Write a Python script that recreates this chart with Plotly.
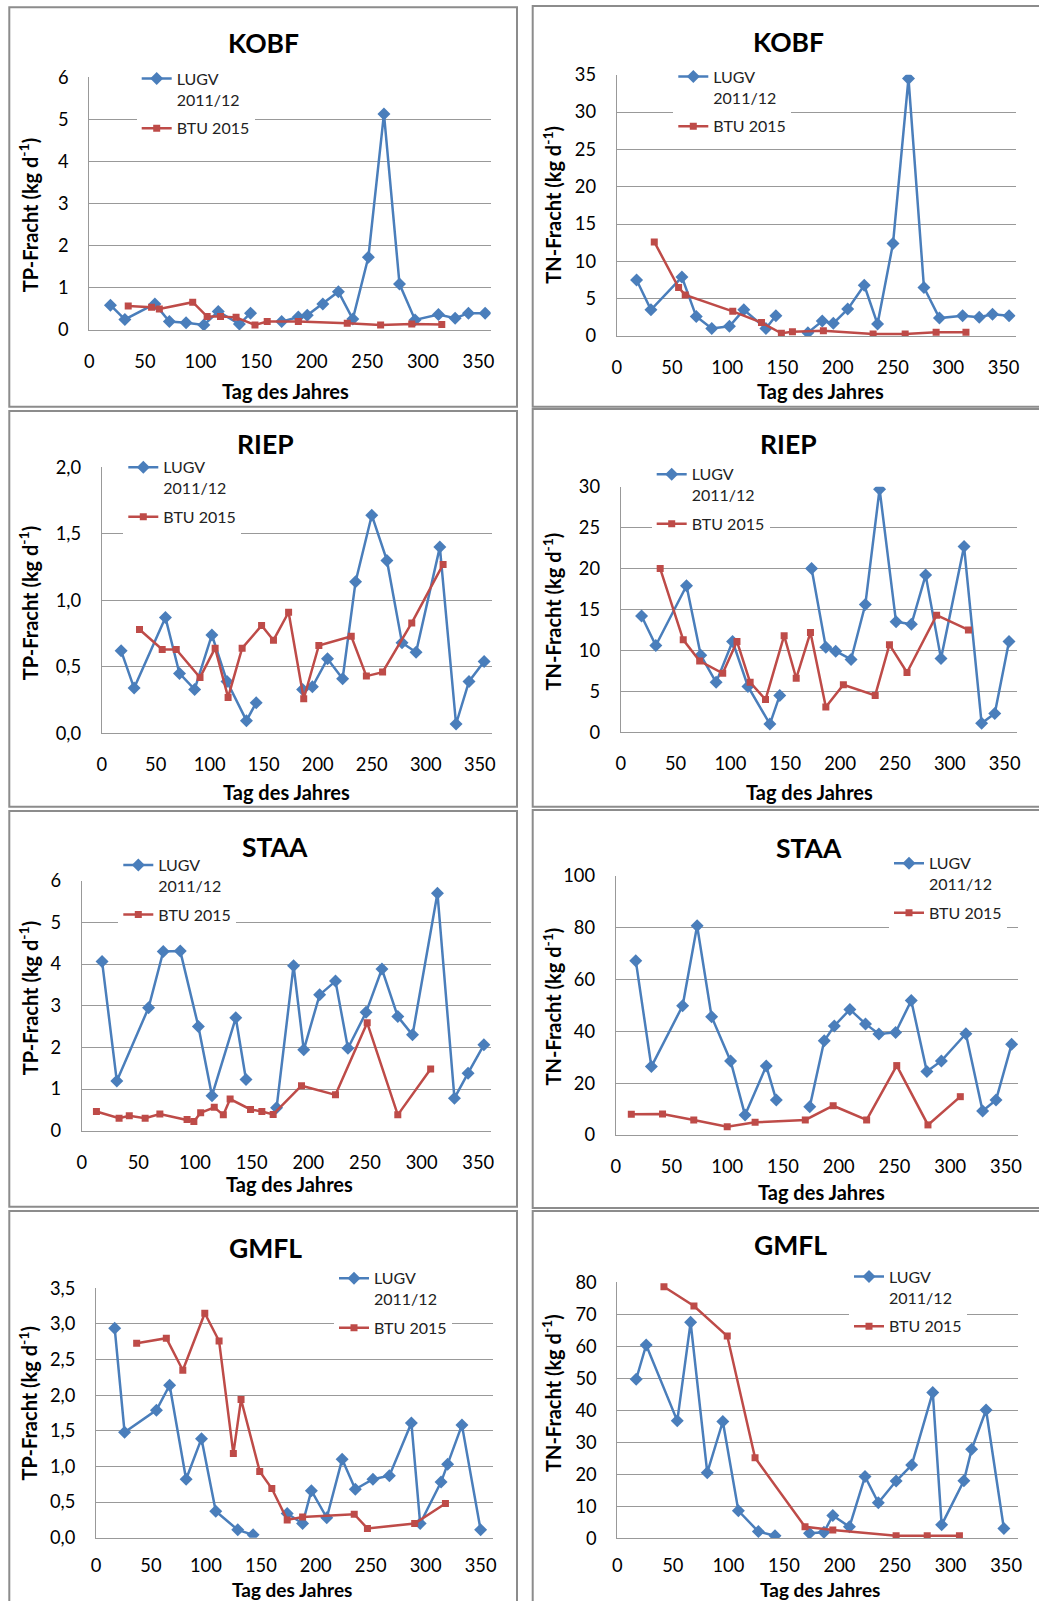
import plotly.graph_objects as go

# ---------------- DATA ----------------
# KOBF TP
kobf_tp_lugv_day = [19, 32, 59, 72, 87, 103, 116, 135, 145, None, 173, 188, 196, 210, 224, 237, 251, 265, 279, 293, 314, 329, 341, 356]
kobf_tp_lugv_val = [0.59, 0.25, 0.62, 0.20, 0.17, 0.12, 0.44, 0.14, 0.40, None, 0.20, 0.31, 0.35, 0.62, 0.91, 0.26, 1.73, 5.13, 1.09, 0.24, 0.37, 0.28, 0.40, 0.40]
kobf_tp_btu_day = [35, 56, 63, 93, 106, 118, 132, 149, 160, 188, 232, 262, 290, 317]
kobf_tp_btu_val = [0.57, 0.54, 0.50, 0.66, 0.32, 0.32, 0.30, 0.12, 0.20, 0.20, 0.16, 0.12, 0.14, 0.13]
# KOBF TN
kobf_tn_lugv_day = [18, 31, 59, 72, 86, 102, 115, 135, 144, None, 173, 186, 196, 209, 224, 236, 250, 264, 278, 292, 313, 328, 340, 355]
kobf_tn_lugv_val = [7.5, 3.5, 7.9, 2.6, 1.0, 1.3, 3.5, 1.0, 2.7, None, 0.45, 2.0, 1.7, 3.6, 6.8, 1.6, 12.4, 34.5, 6.5, 2.4, 2.7, 2.5, 2.9, 2.7]
kobf_tn_btu_day = [34, 56, 62, 105, 131, 149, 159, 187, 232, 261, 289, 316]
kobf_tn_btu_val = [12.6, 6.5, 5.5, 3.3, 1.8, 0.36, 0.58, 0.71, 0.27, 0.27, 0.49, 0.49]
# RIEP TP
riep_tp_lugv_day = [18, 30, 59, 72, 86, 102, 116, 134, 143, None, 186, 195, 209, 223, 235, 250, 264, 278, 291, 313, 328, 340, 354]
riep_tp_lugv_val = [0.62, 0.34, 0.87, 0.45, 0.33, 0.74, 0.39, 0.095, 0.23, None, 0.33, 0.35, 0.56, 0.41, 1.14, 1.64, 1.30, 0.68, 0.61, 1.40, 0.07, 0.39, 0.54]
riep_tp_btu_day = [35, 56, 69, 91, 105, 117, 130, 148, 159, 173, 187, 201, 231, 245, 260, 287, 316]
riep_tp_btu_val = [0.78, 0.63, 0.63, 0.42, 0.64, 0.27, 0.64, 0.81, 0.70, 0.91, 0.26, 0.66, 0.73, 0.43, 0.46, 0.83, 1.27]
# RIEP TN
riep_tn_lugv_day = [19, 32, 60, 73, 87, 102, 116, 136, 145, None, 174, 187, 196, 210, 223, 236, 251, 265, 278, 292, 313, 329, 341, 354]
riep_tn_lugv_val = [14.2, 10.6, 17.9, 9.4, 6.1, 11.1, 5.6, 1.0, 4.5, None, 20.0, 10.4, 9.9, 8.9, 15.6, 29.7, 13.5, 13.2, 19.2, 9.0, 22.7, 1.1, 2.3, 11.1]
riep_tn_btu_day = [36, 57, 72, 93, 106, 118, 132, 149, 160, 173, 187, 203, 232, 245, 261, 288, 317]
riep_tn_btu_val = [20.0, 11.3, 8.7, 7.2, 11.1, 6.1, 4.0, 11.8, 6.6, 12.2, 3.1, 5.8, 4.5, 10.7, 7.3, 14.3, 12.5]
# STAA TP
staa_tp_lugv_day = [18, 31, 59, 72, 87, 103, 115, 136, 145, None, 172, 187, 196, 210, 224, 235, 251, 265, 279, 292, 314, 329, 341, 355]
staa_tp_lugv_val = [4.06, 1.19, 2.95, 4.30, 4.31, 2.50, 0.84, 2.71, 1.23, None, 0.55, 3.96, 1.94, 3.26, 3.59, 1.98, 2.84, 3.88, 2.74, 2.30, 5.70, 0.78, 1.38, 2.06]
staa_tp_btu_day = [13, 33, 42, 56, 69, 93, 99, 105, 117, 125, 131, 149, 159, 169, 194, 224, 252, 279, 308]
staa_tp_btu_val = [0.46, 0.30, 0.36, 0.30, 0.40, 0.27, 0.22, 0.43, 0.56, 0.38, 0.76, 0.51, 0.46, 0.39, 1.08, 0.86, 2.59, 0.38, 1.48]
# STAA TN
staa_tn_lugv_day = [18, 32, 60, 73, 86, 103, 116, 135, 144, None, 174, 187, 196, 210, 224, 236, 251, 265, 279, 292, 314, 329, 341, 355]
staa_tn_lugv_val = [67.3, 26.4, 49.9, 80.8, 45.7, 28.6, 7.7, 26.6, 13.5, None, 10.9, 36.4, 42.1, 48.5, 42.9, 39.0, 39.6, 51.9, 24.5, 28.6, 39.1, 9.3, 13.5, 35.0]
staa_tn_btu_day = [14, 42, 70, 100, 125, 170, 195, 225, 252, 280, 309]
staa_tn_btu_val = [8.0, 8.1, 5.8, 3.2, 4.9, 5.8, 11.3, 5.8, 26.8, 3.9, 14.8]
# GMFL TP
gmfl_tp_lugv_day = [17, 26, 55, 67, 82, 96, 109, 129, 143, None, 174, 188, 196, 210, 224, 236, 252, 267, 287, 295, 314, 320, 333, 350]
gmfl_tp_lugv_val = [2.94, 1.48, 1.79, 2.14, 0.82, 1.39, 0.37, 0.11, 0.04, None, 0.34, 0.20, 0.66, 0.28, 1.10, 0.68, 0.82, 0.87, 1.61, 0.20, 0.78, 1.03, 1.58, 0.11]
gmfl_tp_btu_day = [37, 64, 79, 99, 112, 125, 132, 149, 160, 174, 188, 235, 247, 290, 318]
gmfl_tp_btu_val = [2.73, 2.80, 2.35, 3.15, 2.76, 1.18, 1.94, 0.93, 0.69, 0.25, 0.29, 0.33, 0.13, 0.20, 0.48]
# GMFL TN
gmfl_tn_lugv_day = [17, 26, 54, 66, 81, 95, 109, 127, 142, None, 173, 186, 194, 209, 223, 235, 251, 265, 284, 292, 312, 319, 332, 348]
gmfl_tn_lugv_val = [49.7, 60.4, 36.7, 67.5, 20.5, 36.5, 8.6, 2.1, 0.8, None, 1.6, 1.9, 7.1, 3.6, 19.3, 11.1, 17.9, 22.9, 45.6, 4.2, 18.0, 27.8, 40.1, 3.1]
gmfl_tn_btu_day = [42, 69, 99, 124, 169, 194, 251, 279, 308]
gmfl_tn_btu_val = [78.6, 72.6, 63.2, 25.2, 3.6, 2.6, 0.8, 0.8, 0.8]

station_names = ["KOBF", "KOBF", "RIEP", "RIEP", "STAA", "STAA", "GMFL", "GMFL"]
y_titles = ["TP-Fracht (kg d<sup>-1</sup>)", "TN-Fracht (kg d<sup>-1</sup>)"] * 4
x_title = "Tag des Jahres"
series_names = ["LUGV<br>2011/12", "BTU 2015"]
y_max = [6, 35, 2.0, 30, 6, 100, 3.5, 80]
y_step = [1, 5, 0.5, 5, 1, 20, 0.5, 10]
y_fmt = ["d", "d", ".1f", "d", "d", "d", ".1f", "d"]
x_max = 361

series = [
    (kobf_tp_lugv_day, kobf_tp_lugv_val, kobf_tp_btu_day, kobf_tp_btu_val),
    (kobf_tn_lugv_day, kobf_tn_lugv_val, kobf_tn_btu_day, kobf_tn_btu_val),
    (riep_tp_lugv_day, riep_tp_lugv_val, riep_tp_btu_day, riep_tp_btu_val),
    (riep_tn_lugv_day, riep_tn_lugv_val, riep_tn_btu_day, riep_tn_btu_val),
    (staa_tp_lugv_day, staa_tp_lugv_val, staa_tp_btu_day, staa_tp_btu_val),
    (staa_tn_lugv_day, staa_tn_lugv_val, staa_tn_btu_day, staa_tn_btu_val),
    (gmfl_tp_lugv_day, gmfl_tp_lugv_val, gmfl_tp_btu_day, gmfl_tp_btu_val),
    (gmfl_tn_lugv_day, gmfl_tn_lugv_val, gmfl_tn_btu_day, gmfl_tn_btu_val),
]

# ---------------- LAYOUT GEOMETRY (pixels) ----------------
W, H = 1039, 1601
# plot area: left, right, top, bottom
plot_px = [
    (89.3, 490.7, 77.3, 330.0),
    (616.7, 1015.7, 74.7, 336.0),
    (101.7, 491.7, 467.3, 733.3),
    (620.7, 1016.7, 486.7, 732.3),
    (81.7, 490.7, 880.7, 1130.7),
    (615.7, 1018.3, 876.0, 1135.0),
    (96.0, 492.7, 1288.3, 1537.7),
    (617.3, 1018.3, 1282.3, 1538.3),
]
# panel frames: left, right, top, bottom
frame_px = [
    (9.3, 517, 7.3, 406.7),
    (532.7, 1045, 6, 406.7),
    (9.3, 517, 411, 806.7),
    (532.7, 1045, 409, 806.7),
    (9.3, 517, 811, 1206.7),
    (532.7, 1045, 810, 1208),
    (9.3, 517, 1211, 1610),
    (532.7, 1045, 1211, 1610),
]
title_px = [(263.3, 42.7), (788.3, 41.7), (265, 444.3), (788.3, 444.3),
            (275, 846.7), (809.3, 847.7), (265, 1247.7), (790, 1245)]
ytitle_px = [(28.3, 215), (551.7, 205), (28.3, 603), (551.7, 611.7),
             (28.3, 998), (551.7, 1006.7), (28.3, 1403.3), (551.7, 1393.3)]
xtitle_px = [(285, 390.7), (820, 390.7), (286.7, 791.7), (809.3, 792.3),
             (289.3, 1184.3), (821.7, 1192.3), (291.7, 1589), (820, 1589)]
xtitle_size = [20, 20, 20, 20, 20, 20, 19, 19]
xtick_standoff = [15, 15, 15, 15, 15, 15, 11, 11]
# legend: text-left x, first line centre y
legend_px = [(177.7, 78.7), (714.3, 76.7), (164.3, 467.3), (692.7, 474.3),
             (159.3, 865), (930, 863.3), (375, 1278.3), (890, 1276.7)]

FONT = "Lato"
BLUE = "#4a7ebb"
RED = "#be4b48"
GRID = "#999999"


def px_x(x):
    return x / W


def px_y(y):
    return 1 - y / H


fig = go.Figure()
layout = dict(
    width=W, height=H,
    margin=dict(l=0, r=0, t=0, b=0, pad=0, autoexpand=False),
    paper_bgcolor="white", plot_bgcolor="white",
    separators=",.",
    font=dict(family=FONT, size=17, color="black"),
    shapes=[], annotations=[],
)

for i in range(8):
    n = "" if i == 0 else str(i + 1)
    lg = "legend" if i == 0 else "legend" + str(i + 1)
    ld, lv, bd, bv = series[i]
    fig.add_trace(go.Scatter(
        x=ld, y=lv, name=series_names[0], mode="lines+markers",
        line=dict(color=BLUE, width=2.5),
        marker=dict(symbol="diamond", size=10, color=BLUE),
        xaxis="x" + n, yaxis="y" + n, legend=lg, legendgroup="lugv" + n,
        connectgaps=False,
    ))
    fig.add_trace(go.Scatter(
        x=bd, y=bv, name=series_names[1], mode="lines+markers",
        line=dict(color=RED, width=2.5),
        marker=dict(symbol="square", size=7, color=RED),
        xaxis="x" + n, yaxis="y" + n, legend=lg, legendgroup="btu" + n,
    ))
    l, r, t, b = plot_px[i]
    layout["xaxis" + n] = dict(
        domain=[px_x(l), px_x(r)], anchor="y" + n, range=[0, x_max],
        tick0=0, dtick=50, showgrid=False, zeroline=False, automargin=False,
        showline=True, linecolor=GRID, linewidth=1,
        ticks="", ticklabelstandoff=xtick_standoff[i],
        tickfont=dict(family=FONT, size=18.3, color="black"),
    )
    layout["yaxis" + n] = dict(
        domain=[px_y(b), px_y(t)], anchor="x" + n, range=[0, y_max[i]],
        tick0=0, dtick=y_step[i], tickformat=y_fmt[i], automargin=False,
        showgrid=True, gridcolor=GRID, gridwidth=1, zeroline=False,
        showline=True, linecolor=GRID, linewidth=1,
        ticks="", ticklabelstandoff=16,
        tickfont=dict(family=FONT, size=18.3, color="black"),
    )
    tx, ty = legend_px[i]
    layout[lg] = dict(
        x=px_x(tx - 41), y=px_y(ty - 17), xanchor="left", yanchor="top",
        bgcolor="white", borderwidth=0, valign="top",
        font=dict(family=FONT, size=16, color="#222"),
        tracegroupgap=5, traceorder="grouped",
    )
    fl, fr, ft, fb = frame_px[i]
    layout["shapes"].append(dict(
        type="rect", xref="paper", yref="paper",
        x0=px_x(fl), x1=px_x(fr), y0=px_y(fb), y1=px_y(ft),
        line=dict(color="#8c8c8c", width=2), layer="below",
    ))
    cx, cy = title_px[i]
    layout["annotations"].append(dict(
        text="<b>" + station_names[i] + "</b>", xref="paper", yref="paper",
        x=px_x(cx), y=px_y(cy), xanchor="center", yanchor="middle",
        showarrow=False, font=dict(family=FONT, size=26.5, color="black"),
    ))
    yx, yy = ytitle_px[i]
    layout["annotations"].append(dict(
        text="<b>" + y_titles[i] + "</b>", xref="paper", yref="paper",
        x=px_x(yx), y=px_y(yy), xanchor="center", yanchor="middle",
        textangle=-90, showarrow=False,
        font=dict(family=FONT, size=20, color="black"),
    ))
    xx, xy = xtitle_px[i]
    layout["annotations"].append(dict(
        text="<b>" + x_title + "</b>", xref="paper", yref="paper",
        x=px_x(xx), y=px_y(xy), xanchor="center", yanchor="middle",
        showarrow=False, font=dict(family=FONT, size=xtitle_size[i], color="black"),
    ))

fig.update_layout(**layout)
fig.write_html("out.html", config={"displayModeBar": False},
               post_script="document.body.style.margin='0';")
